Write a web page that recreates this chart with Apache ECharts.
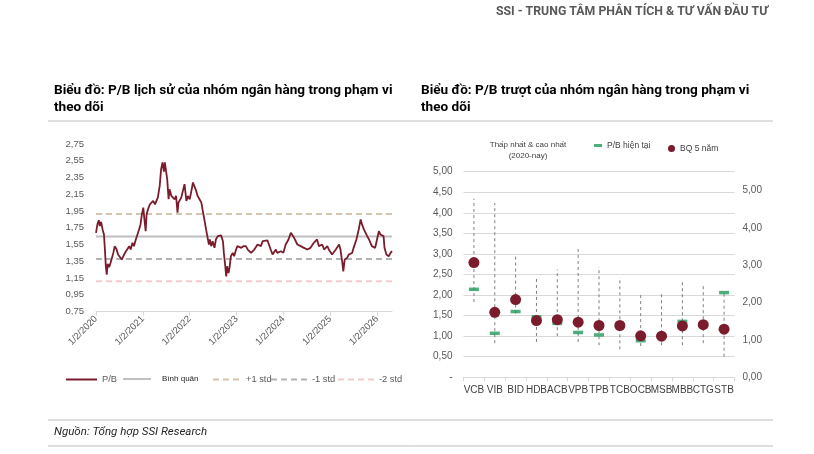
<!DOCTYPE html>
<html><head><meta charset="utf-8">
<script src="https://cdn.jsdelivr.net/npm/echarts@6/dist/echarts.min.js"></script>
<style>html,body{margin:0;padding:0;background:#fff}#c{width:814px;height:454px}</style>
</head><body><div id="c"></div>
<script>
// ---- Left chart: historical P/B (x = decimal year, 2020.00 = 1/2/2020) ----
const pbYears = [2020.00,2020.03,2020.06,2020.08,2020.11,2020.14,2020.17,2020.19,2020.21,2020.23,2020.25,2020.28,2020.31,2020.34,2020.37,2020.40,2020.44,2020.47,2020.51,2020.55,2020.57,2020.60,2020.64,2020.67,2020.71,2020.74,2020.78,2020.81,2020.85,2020.89,2020.92,2020.95,2020.98,2021.01,2021.03,2021.06,2021.08,2021.11,2021.15,2021.18,2021.22,2021.26,2021.29,2021.32,2021.36,2021.39,2021.42,2021.45,2021.47,2021.52,2021.55,2021.57,2021.61,2021.64,2021.68,2021.71,2021.74,2021.76,2021.82,2021.86,2021.89,2021.93,2021.96,2022.00,2022.03,2022.07,2022.10,2022.14,2022.17,2022.21,2022.25,2022.28,2022.32,2022.35,2022.39,2022.41,2022.43,2022.46,2022.49,2022.53,2022.56,2022.60,2022.64,2022.67,2022.71,2022.73,2022.76,2022.78,2022.80,2022.83,2022.85,2022.88,2022.92,2022.95,2022.99,2023.02,2023.06,2023.10,2023.15,2023.20,2023.24,2023.27,2023.31,2023.38,2023.45,2023.49,2023.52,2023.56,2023.59,2023.66,2023.70,2023.73,2023.77,2023.80,2023.84,2023.87,2023.95,2024.00,2024.05,2024.11,2024.16,2024.19,2024.23,2024.27,2024.30,2024.37,2024.44,2024.51,2024.58,2024.65,2024.72,2024.76,2024.83,2024.87,2024.94,2024.97,2025.04,2025.12,2025.19,2025.22,2025.26,2025.28,2025.31,2025.36,2025.40,2025.47,2025.50,2025.56,2025.61,2025.65,2025.68,2025.72,2025.75,2025.79,2025.83,2025.86,2025.89,2025.93,2025.96,2026.00,2026.04,2026.07,2026.11,2026.14,2026.16,2026.20,2026.25,2026.29,2026.32];
const pbValues = [1.69,1.79,1.84,1.77,1.82,1.73,1.67,1.49,1.29,1.19,1.32,1.28,1.33,1.31,1.45,1.53,1.49,1.43,1.45,1.37,1.35,1.43,1.47,1.49,1.53,1.49,1.57,1.53,1.61,1.63,1.73,1.79,1.91,1.99,1.87,1.71,1.91,1.97,2.03,2.01,2.07,2.03,2.07,2.11,2.25,2.45,2.53,2.42,2.53,2.33,2.09,2.21,2.13,2.15,2.09,2.13,1.93,2.05,2.11,2.09,2.27,2.07,2.13,2.09,2.17,2.29,2.27,2.19,2.13,2.09,2.05,1.95,1.83,1.73,1.61,1.55,1.61,1.53,1.59,1.51,1.61,1.65,1.67,1.66,1.59,1.45,1.29,1.17,1.29,1.21,1.27,1.41,1.45,1.41,1.49,1.53,1.55,1.51,1.53,1.53,1.49,1.47,1.45,1.49,1.55,1.57,1.53,1.59,1.61,1.60,1.59,1.49,1.43,1.45,1.49,1.45,1.47,1.45,1.55,1.61,1.69,1.71,1.63,1.61,1.55,1.53,1.51,1.49,1.51,1.57,1.61,1.53,1.55,1.49,1.53,1.49,1.43,1.49,1.55,1.49,1.33,1.23,1.37,1.39,1.43,1.45,1.51,1.61,1.73,1.85,1.79,1.73,1.71,1.65,1.61,1.57,1.53,1.55,1.51,1.61,1.71,1.67,1.65,1.65,1.51,1.43,1.41,1.45,1.47];
const meanPB = 1.646, plus1Std = 1.914, minus1Std = 1.378, minus2Std = 1.110;
const leftYTicks = [0.75,0.95,1.15,1.35,1.55,1.75,1.95,2.15,2.35,2.55,2.75];
const yearTicks = [2020,2021,2022,2023,2024,2025,2026];
const xStart = 2020.00, xEnd = 2026.32;

// ---- Right chart: trailing P/B by bank ----
const banks   = ['VCB','VIB','BID','HDB','ACB','VPB','TPB','TCB','OCB','MSB','MBB','CTG','STB'];
const pbNow   = [2.14,1.07,1.60,1.47,1.31,1.09,1.03,1.26,0.89,1.00,1.36,1.28,2.06];
const pbAvg5  = [2.79,1.58,1.89,1.38,1.40,1.34,1.26,1.26,1.01,1.00,1.25,1.28,1.17];
const pbMin   = [1.83,0.83,1.55,0.86,1.00,0.86,0.78,0.68,0.76,0.78,0.78,0.83,0.50];
const pbMax   = [4.34,4.24,3.01,2.42,2.62,3.17,2.68,2.44,2.04,2.04,2.36,2.22,2.08];

const FONT = 'Roboto, "Liberation Sans", sans-serif';
const AX = 'Liberation Sans, Arial, sans-serif';
const comma = v => v.toFixed(2).replace('.', ',');
const hline = v => [[xStart, v], [xEnd, v]];
const legText = {fontSize: 9.3, color: '#595959', fontFamily: AX};
const oneLegend = (name, left, w, extra) => Object.assign({
  left: left, top: 375, itemWidth: w, itemHeight: 10, padding: 0,
  itemStyle: {opacity: 0}, textStyle: legText, data: [{name: name}]
}, extra || {});

const chart = echarts.init(document.getElementById('c'), null, {renderer: 'canvas'});
chart.setOption({
  animation: false,
  backgroundColor: '#fff',
  textStyle: {fontFamily: AX},
  title: [
    {text: 'SSI - TRUNG TÂM PHÂN TÍCH & TƯ VẤN ĐẦU TƯ', right: 41, top: 1,
     textStyle: {fontFamily: FONT, fontSize: 12.3, fontWeight: 'bold', color: '#595959'}},
    {text: 'Biểu đồ: P/B lịch sử của nhóm ngân hàng trong phạm vi\ntheo dõi', left: 49, top: 77,
     textStyle: {fontFamily: FONT, fontSize: 13.6, fontWeight: 'bold', color: '#000', lineHeight: 17}},
    {text: 'Biểu đồ: P/B trượt của nhóm ngân hàng trong phạm vi\ntheo dõi', left: 416, top: 77,
     textStyle: {fontFamily: FONT, fontSize: 13.6, fontWeight: 'bold', color: '#000', lineHeight: 17}},
    {text: 'Thấp nhất & cao nhất\n(2020-nay)', left: 523, top: 134, textAlign: 'center',
     textStyle: {fontFamily: AX, fontSize: 8, fontWeight: 'normal', color: '#404040', lineHeight: 11}},
    {text: 'Nguồn: Tổng hợp SSI Research', left: 49, top: 421,
     textStyle: {fontFamily: FONT, fontSize: 11.5, fontStyle: 'italic', fontWeight: 'normal', color: '#262626'}}
  ],
  graphic: [
    {type: 'line', shape: {x1: 48, y1: 121, x2: 773, y2: 121}, style: {stroke: '#bfbfbf', lineWidth: 1}},
    {type: 'line', shape: {x1: 48, y1: 420, x2: 773, y2: 420}, style: {stroke: '#bfbfbf', lineWidth: 1}},
    {type: 'line', shape: {x1: 48, y1: 446, x2: 773, y2: 446}, style: {stroke: '#bfbfbf', lineWidth: 1}}
  ],
  legend: [
    oneLegend('P/B', 65, 31),
    oneLegend('Bình quân', 122, 28, {textStyle: {fontSize: 8, color: '#262626', fontFamily: AX, padding: [0, 0, 0, 6]}}),
    oneLegend('+1 std', 212, 28),
    oneLegend('-1 std', 270, 36),
    oneLegend('-2 std', 337, 36),
    {left: 594, top: 141, itemWidth: 8, itemHeight: 3, padding: 0,
     textStyle: {fontSize: 8.5, color: '#404040', fontFamily: AX},
     data: [{name: 'P/B hiện tại', icon: 'rect'}]},
    {left: 668, top: 144, itemWidth: 7, itemHeight: 7, padding: 0,
     textStyle: {fontSize: 8.5, color: '#404040', fontFamily: AX},
     data: [{name: 'BQ 5 năm', icon: 'circle'}]}
  ],
  grid: [
    {left: 96, right: 422, top: 144, bottom: 142.5},
    {left: 463.5, right: 79.5, top: 171.7, bottom: 76.7}
  ],
  xAxis: [
    {type: 'value', gridIndex: 0, min: xStart, max: xEnd, splitLine: {show: false},
     axisLine: {show: true, lineStyle: {color: '#d9d9d9'}},
     axisTick: {show: true, customValues: yearTicks, length: 4, lineStyle: {color: '#d9d9d9'}},
     axisLabel: {customValues: yearTicks, rotate: 45, fontSize: 9.5, color: '#595959', margin: 6,
                 formatter: v => '1/2/' + Math.round(v)}},
    {type: 'category', gridIndex: 1, data: banks,
     axisLine: {show: true, lineStyle: {color: '#d9d9d9'}},
     axisTick: {show: true, length: 4, lineStyle: {color: '#d9d9d9'}},
     axisLabel: {fontSize: 10, color: '#404040', margin: 8, interval: 0}}
  ],
  yAxis: [
    {type: 'value', gridIndex: 0, min: 0.75, max: 2.75, splitLine: {show: false},
     axisLine: {show: false}, axisTick: {show: false},
     axisLabel: {customValues: leftYTicks, fontSize: 9.5, color: '#595959', margin: 12, formatter: v => comma(v)}},
    {type: 'value', gridIndex: 1, min: 0, max: 5, interval: 0.5,
     splitLine: {show: true, lineStyle: {color: '#d9d9d9'}},
     axisLine: {show: false}, axisTick: {show: false},
     axisLabel: {fontSize: 10, color: '#595959', margin: 11, formatter: v => v === 0 ? '-' : comma(v)}},
    {type: 'value', gridIndex: 1, position: 'right', min: 0, max: 5.5, interval: 1,
     splitLine: {show: false}, axisLine: {show: false}, axisTick: {show: false},
     axisLabel: {fontSize: 10, color: '#595959', margin: 8, showMaxLabel: false,
                 formatter: v => Number.isInteger(v) ? comma(v) : ''}}
  ],
  series: [
    {name: 'P/B', type: 'line', xAxisIndex: 0, yAxisIndex: 0, symbol: 'none', z: 5,
     data: pbYears.map((t, i) => [t, pbValues[i]]),
     lineStyle: {color: '#7b1c2c', width: 1.8}, itemStyle: {color: '#7b1c2c'}},
    {name: 'Bình quân', type: 'line', xAxisIndex: 0, yAxisIndex: 0, symbol: 'none', z: 3,
     data: hline(meanPB), lineStyle: {color: '#bfbfbf', width: 2}, itemStyle: {color: '#bfbfbf'}},
    {name: '+1 std', type: 'line', xAxisIndex: 0, yAxisIndex: 0, symbol: 'none', z: 3,
     data: hline(plus1Std), lineStyle: {color: '#d5c4ae', width: 2, type: [6, 4]}, itemStyle: {color: '#d5c4ae'}},
    {name: '-1 std', type: 'line', xAxisIndex: 0, yAxisIndex: 0, symbol: 'none', z: 3,
     data: hline(minus1Std), lineStyle: {color: '#b3b3b3', width: 2, type: [6, 4]}, itemStyle: {color: '#b3b3b3'}},
    {name: '-2 std', type: 'line', xAxisIndex: 0, yAxisIndex: 0, symbol: 'none', z: 3,
     data: hline(minus2Std), lineStyle: {color: '#f2cccc', width: 2, type: [6, 4]}, itemStyle: {color: '#f2cccc'}},
    {name: 'Thấp nhất & cao nhất', type: 'custom', xAxisIndex: 1, yAxisIndex: 1, z: 2,
     data: banks.map((b, i) => [i, pbMin[i], pbMax[i]]),
     encode: {x: 0, y: [1, 2]},
     renderItem: (params, api) => {
       const lo = api.coord([api.value(0), api.value(1)]);
       const hi = api.coord([api.value(0), api.value(2)]);
       return {type: 'line', shape: {x1: lo[0], y1: lo[1], x2: hi[0], y2: hi[1]},
               style: {stroke: '#7f7f7f', lineWidth: 1, lineDash: [3, 3]}};
     }},
    {name: 'P/B hiện tại', type: 'scatter', xAxisIndex: 1, yAxisIndex: 1, z: 3,
     symbol: 'rect', symbolSize: [10, 3.5], data: pbNow, itemStyle: {color: '#1f9a5a'}},
    {name: 'BQ 5 năm', type: 'scatter', xAxisIndex: 1, yAxisIndex: 1, z: 4,
     symbol: 'circle', symbolSize: 11, data: pbAvg5, itemStyle: {color: '#7b1c2c', opacity: 1}}
  ]
});
</script></body></html>
